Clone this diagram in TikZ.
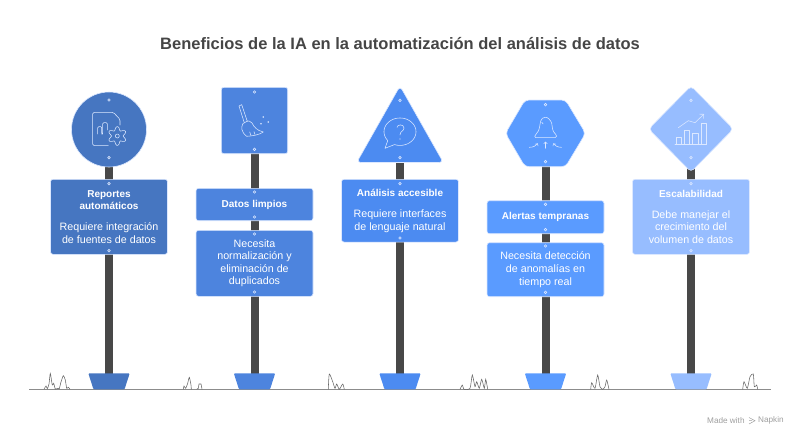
\documentclass[tikz,border=0pt]{standalone}
\usepackage{fontspec}
\setmainfont{Liberation Sans}
\usetikzlibrary{arrows.meta}

\definecolor{signa}{HTML}{4676C1}
\definecolor{signb}{HTML}{4D84DE}
\definecolor{signc}{HTML}{4C8BF1}
\definecolor{signd}{HTML}{5A9BFF}
\definecolor{signe}{HTML}{97BDFF}
\definecolor{polegray}{HTML}{484848}
\definecolor{titlegray}{HTML}{454545}
\definecolor{linetint}{HTML}{DCE8FF}

\newcommand{\signhead}[1]{{\fontsize{10}{12.6}\selectfont\bfseries #1}}

\tikzset{
    signbox/.style={draw=linetint, line width=.6pt, rounded corners=2.5pt, inner sep=0pt,
        minimum width=117pt, text=white, align=center,
        font=\fontsize{10.7}{12.6}\selectfont},
    signface/.style={draw=linetint, line width=.6pt, rounded corners=2.5pt},
    pointed/.style={draw=linetint, line width=.6pt, rounded corners=4pt},
    pole/.style={draw=polegray, line width=8pt},
    foot/.style={rounded corners=1pt},
    hole/.style={draw=linetint, line width=.6pt},
    icon/.style={draw=linetint, line width=.55pt, line cap=round, line join=round},
    grass/.style={draw=black!60, line width=.55pt},
    tiny/.style={text=black!38, font=\fontsize{8.2}{9}\selectfont, inner sep=0pt}
}

\begin{document}
\begin{tikzpicture}[x=1pt, y=-1pt, >={Straight Barb[length=1.8pt,width=3.6pt]}]
    \useasboundingbox (0,0) rectangle (800,440);
    \node [text=titlegray, font=\fontsize{16.5}{19}\selectfont\bfseries] (title) at (400,44)
        {Beneficios de la IA en la automatización del análisis de datos};

    % ground and grass
    \coordinate (groundl) at (29,389.5);
    \coordinate (groundr) at (771,389.5);
    \draw [draw=black!45, line width=.8pt] (groundl) -- (groundr);
    \draw [grass] plot [smooth, tension=.4] coordinates {(44,389.3) (46,386) (47.3,388.7) (49,384) (50.3,373.5) (52.3,385) (53.7,383.3) (55.3,389) (57.7,388.3) (59.3,388.7) (60.7,383) (63.3,375.7) (65.3,380) (66.7,388.3) (68.3,387.3) (70,389.3)};
    \draw [grass] plot [smooth, tension=.4] coordinates {(183.3,389.3) (184,386) (185.7,388.3) (187.7,383.3) (189.3,377.3) (191,385) (191.3,389.3)};
    \draw [grass] plot [smooth, tension=.4] coordinates {(196.7,389.3) (198.3,388.3) (199,384) (201,384) (202,389.3)};
    \draw [grass] plot [smooth, tension=.4] coordinates {(328.3,389.3) (329.3,374) (332.7,381.7) (335,388.3) (336.7,384) (339.3,389.3) (342.7,384) (344.3,389.3)};
    \draw [grass] plot [smooth, tension=.4] coordinates {(460,389.3) (462.3,385) (464,389.3) (470,388.3) (472.3,375) (475,386.7) (476.7,381.7) (479.3,388.3) (481.7,379.3) (484.3,388.3) (485.7,379.3) (487.7,389.3)};
    \draw [grass] plot [smooth, tension=.4] coordinates {(590.7,389.3) (591.7,382.7) (595,388.3) (597.7,375) (600,386.7) (602.7,389.3) (605,386.7) (606.7,380) (609,389.3)};
    \draw [grass] plot [smooth, tension=.4] coordinates {(742.7,389.3) (744,381.7) (747.3,388.3) (750,376.7) (753.3,374) (754.3,386.7) (756.7,385) (757.7,389.3)};

    % poles and feet
    \foreach \x/\c in {109/signa, 254.5/signb, 400/signc, 545.5/signd, 691/signe} {
        \coordinate (top\c) at (\x,150);
        \coordinate (bottom\c) at (\x,373.5);
        \draw [pole] (top\c) -- (bottom\c);
        \fill [foot, fill=\c] (\x-20.7,373.3) -- (\x+20.7,373.3) -- (\x+15.5,389.4) -- (\x-15.5,389.4) -- cycle;
    }

    % sign faces
    \draw [signface, fill=signa] (109,129.5) circle [radius=37.5];
    \draw [signface, fill=signb] (221.3,87.3) rectangle (287.7,153.7);
    \draw [pointed, fill=signc] (400,86) -- (443.3,162.5) -- (356.7,162.5) -- cycle;
    \draw [pointed, fill=signd] (525,100) -- (565.5,100) -- (585.5,133.3) -- (565.5,166.7) -- (525,166.7) -- (505.5,133.3) -- cycle;
    \draw [pointed, fill=signe] (691,86) -- (733.2,129) -- (691,172) -- (648.8,129) -- cycle;

    % text boxes
    \node [signbox, fill=signa, minimum height=75pt] (reportes) at (109,216.8)
        {\signhead{Reportes}\\\signhead{automáticos}\\[8.4pt]Requiere integración\\de fuentes de datos};
    \node [signbox, fill=signb, minimum height=32.4pt] (limpios) at (254.5,204.5)
        {\signhead{Datos limpios}};
    \node [signbox, fill=signb, minimum height=66pt] (normal) at (254.5,263.3)
        {Necesita\\normalización y\\eliminación de\\duplicados};
    \node [signbox, fill=signc, minimum height=62.7pt] (accesible) at (400,210.7)
        {\signhead{Análisis accesible}\\[8.4pt]Requiere interfaces\\de lenguaje natural};
    \node [signbox, fill=signd, minimum height=33pt] (alertas) at (545.5,217.2)
        {\signhead{Alertas tempranas}};
    \node [signbox, fill=signd, minimum height=54pt] (deteccion) at (545.5,269.7)
        {Necesita detección\\de anomalías en\\tiempo real};
    \node [signbox, fill=signe, minimum height=75pt] (escala) at (691,216.8)
        {\signhead{Escalabilidad}\\[8.4pt]Debe manejar el\\crecimiento del\\volumen de datos};

    % holes
    \foreach \x/\y in {109/100, 109/157.7, 109/183.7, 109/250.7,
                       254.5/92, 254.5/149.3, 254.5/192, 254.5/217, 254.5/234, 254.5/292,
                       400/100.3, 400/157.7, 400/183.7, 400/238,
                       545.5/104.7, 545.5/161.7, 545.5/204.3, 545.5/229.7, 545.5/246, 545.5/292.3,
                       691/100.3, 691/157.7, 691/183.7, 691/250.7}
        \draw [hole] (\x,\y) circle [radius=1.3];

    % document with gear
    \draw [icon, rounded corners=1.5pt] (108.3,145.7) -- (92.7,145.7) -- (92.7,112.3) -- (113.3,112.3) -- (120,119.3) -- (120,125);
    \draw [icon, rounded corners=1pt] (97.7,134) -- (97.7,126.7) -- (101.7,126.7) -- (101.7,134) -- (102.7,134) -- (102.7,122.7) -- (107.3,122.7) -- (107.3,130);
    \draw [icon] plot [domain=0:360, samples=73, smooth] ({117.3+(7.6-1.8*cos(6*\x))*cos(\x)}, {136+(7.6-1.8*cos(6*\x))*sin(\x)});
    \draw [icon] (117.3,136) circle [radius=2];

    % broom
    \draw [icon] (244.3,122.7) -- (239,106) -- (241.7,104.7) -- (247.3,121.3);
    \draw [icon, rounded corners=1pt] (243,123.5) -- (248.5,120.5) -- (252,123);
    \draw [icon] (243,123.5) .. controls (241,127) and (241,132) .. (246.7,136.3) .. controls (252,136) and (259,135) .. (263.3,132) .. controls (257,130.5) and (254,127) .. (252,123);
    \draw [icon] (251,135.5) -- (249.7,132);
    \draw [icon] (255,134.5) -- (254,131.7);
    \foreach \x/\y in {263.3/117, 261/123.7, 268.3/122}
        \fill [linetint] (\x,\y) circle [radius=.9];

    % speech bubble
    \draw [icon] plot [domain=110:-220, samples=70, smooth] ({400+16*cos(\x)}, {131.7+13.7*sin(\x)}) -- (385,148.3) -- cycle;
    \draw [icon] (397,127.5) .. controls (397,124) and (404,124) .. (404,128) .. controls (404,131) and (400,131) .. (400,135);
    \fill [linetint] (400,139) circle [radius=.6];

    % bell with arrows
    \draw [icon] (535.7,137.7) -- (555,137.7) .. controls (557,137.7) and (557,135) .. (555.5,134) .. controls (552,131.5) and (552.5,127) .. (551.7,123.3) .. controls (550.5,120) and (548,117.3) .. (545.5,117.3) .. controls (543,117.3) and (541.5,118.5) .. (540.7,121) .. controls (539.5,125) and (540,130.5) .. (536.5,133.5) .. controls (534.5,135) and (534,137.7) .. (535.7,137.7);
    \draw [icon] (541.7,122.2) -- (543.2,124);
    \draw [icon, ->] (545.5,148.3) -- (545.5,141.7);
    \draw [icon, ->] (529.3,147.3) .. controls (533,147.3) and (536,146) .. (537.7,143.3);
    \draw [icon, ->] (561.5,147.3) .. controls (558,147.3) and (555,146) .. (553.3,143.3);

    % growth chart
    \draw [icon] (675,144.7) -- (706.7,144.7);
    \draw [icon] (676.3,144.7) -- (676.3,137.3) -- (681,137.3) -- (681,144.7);
    \draw [icon] (684.7,144.7) -- (684.7,130.3) -- (689.7,130.3) -- (689.7,144.7);
    \draw [icon] (692.7,144.7) -- (692.7,133.7) -- (698,133.7) -- (698,144.7);
    \draw [icon] (701,144.7) -- (701,123.3) -- (706,123.3) -- (706,144.7);
    \draw [icon, ->, >={Straight Barb[length=3pt,width=6pt]}] (678.3,127.7) -- (688.3,120.7) -- (695,122.7) -- (704,114);

    % footer
    \node [tiny, anchor=west] (madewith) at (707,420.7) {Made with};
    \node [tiny, anchor=west] (napkin) at (758,420.7) {Napkin};
    \draw [draw=black!38, line width=.5pt] (749,417.5) -- (755,420.7) -- (749,424) (749,420.7) -- (752,420.7);
\end{tikzpicture}
\end{document}
